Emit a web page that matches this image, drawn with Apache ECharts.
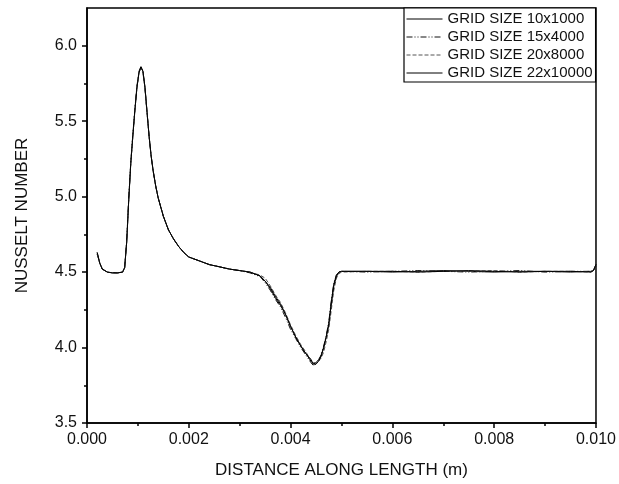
<!DOCTYPE html>
<html>
<head>
<meta charset="utf-8">
<script src="https://cdn.jsdelivr.net/npm/echarts@6/dist/echarts.min.js"></script>
<style>
html,body{margin:0;padding:0;background:#fff;}
#chart{width:619px;height:484px;}
</style>
</head>
<body>
<div id="chart"></div>
<script>
var seriesNames = ['GRID SIZE 10x1000','GRID SIZE 15x4000','GRID SIZE 20x8000','GRID SIZE 22x10000'];
var xs = [0.0002,0.00025,0.0003,0.0004,0.0005,0.0006,0.0007,0.00074,0.00078,0.00082,0.00086,0.0009,0.00094,0.00098,0.00102,0.00106,0.0011,0.00114,0.00118,0.00122,0.00126,0.0013,0.00135,0.0014,0.0015,0.0016,0.0017,0.0018,0.0019,0.002,0.0022,0.0024,0.0026,0.0028,0.003,0.0032,0.0034,0.0035,0.0036,0.0037,0.0038,0.0039,0.004,0.0041,0.0042,0.0043,0.0044,0.00445,0.0045,0.00455,0.0046,0.00465,0.0047,0.00475,0.0048,0.00485,0.0049,0.00495,0.005,0.0055,0.006,0.0065,0.007,0.0075,0.008,0.0085,0.009,0.0095,0.0099,0.00995,0.01];
var nu10x1000 = [4.63,4.56,4.52,4.50,4.495,4.495,4.50,4.53,4.70,4.98,5.22,5.40,5.57,5.72,5.82,5.86,5.83,5.72,5.56,5.40,5.27,5.17,5.07,4.99,4.87,4.78,4.72,4.67,4.63,4.60,4.575,4.55,4.535,4.52,4.51,4.50,4.475,4.44,4.39,4.33,4.28,4.22,4.14,4.07,4.01,3.96,3.91,3.89,3.90,3.92,3.95,4.00,4.07,4.16,4.30,4.42,4.48,4.50,4.505,4.505,4.50,4.505,4.51,4.505,4.50,4.505,4.505,4.50,4.505,4.51,4.55];
var nu15x4000 = [4.62,4.56,4.52,4.50,4.495,4.495,4.50,4.53,4.71,4.99,5.23,5.41,5.58,5.73,5.83,5.86,5.82,5.71,5.55,5.40,5.27,5.17,5.07,4.99,4.87,4.78,4.72,4.67,4.63,4.60,4.575,4.55,4.535,4.52,4.51,4.495,4.47,4.43,4.38,4.32,4.27,4.20,4.12,4.06,4.00,3.95,3.90,3.88,3.89,3.91,3.95,4.01,4.08,4.17,4.31,4.43,4.48,4.50,4.505,4.50,4.505,4.51,4.505,4.50,4.505,4.51,4.50,4.505,4.505,4.51,4.54];
var nu20x8000 = [4.62,4.56,4.52,4.50,4.495,4.495,4.50,4.53,4.70,4.98,5.22,5.40,5.57,5.72,5.82,5.85,5.82,5.72,5.56,5.40,5.27,5.17,5.07,4.99,4.87,4.78,4.72,4.67,4.63,4.60,4.575,4.55,4.535,4.52,4.51,4.50,4.48,4.46,4.41,4.35,4.30,4.23,4.15,4.08,4.02,3.97,3.92,3.90,3.90,3.91,3.93,3.97,4.04,4.12,4.25,4.38,4.46,4.49,4.50,4.505,4.505,4.50,4.505,4.505,4.51,4.50,4.505,4.505,4.50,4.51,4.55];
var nu22x10000 = [4.63,4.56,4.52,4.50,4.495,4.495,4.50,4.53,4.70,4.98,5.22,5.40,5.57,5.72,5.82,5.86,5.83,5.72,5.56,5.40,5.27,5.17,5.07,4.99,4.87,4.78,4.72,4.67,4.63,4.60,4.575,4.55,4.535,4.52,4.51,4.50,4.475,4.44,4.40,4.34,4.29,4.22,4.14,4.07,4.01,3.96,3.92,3.89,3.89,3.91,3.94,4.00,4.07,4.15,4.29,4.41,4.47,4.50,4.505,4.505,4.505,4.50,4.505,4.51,4.505,4.50,4.505,4.505,4.50,4.51,4.55];
var yMajorTicks = [3.5,4.0,4.5,5.0,5.5,6.0];
var yMinorTicks = [3.75,4.25,4.75,5.25,5.75];

function pairs(ys){ return xs.map(function(x,i){ return [x, ys[i]]; }); }
var allY = [nu10x1000, nu15x4000, nu20x8000, nu22x10000];
var styles = [
  {color:'#000', type:'solid'},
  {color:'#111', type:[6,2,1,2,1,2]},
  {color:'#555', type:[4,2]},
  {color:'#000', type:'solid'}
];
var FONT = 'Liberation Sans, Arial, sans-serif';
var chart = echarts.init(document.getElementById('chart'), null, {renderer:'canvas'});
chart.setOption({
  animation: false,
  backgroundColor: '#fff',
  grid: {left: 87, right: 20, top: 8, bottom: 61, show: true, borderColor: '#000', borderWidth: 1.5, backgroundColor: 'transparent'},
  legend: {
    data: seriesNames,
    orient: 'vertical',
    left: 404, top: 8,
    padding: [2, 3, 0, 2],
    itemGap: 0,
    itemWidth: 36, itemHeight: 18,
    backgroundColor: '#fff',
    borderColor: '#000', borderWidth: 1.2,
    itemStyle: {opacity: 0},
    lineStyle: {width: 1},
    textStyle: {fontFamily: FONT, fontSize: 15, color: '#111', lineHeight: 18}
  },
  xAxis: {
    type: 'value', min: 0, max: 0.01, interval: 0.002,
    name: 'DISTANCE ALONG LENGTH (m)', nameLocation: 'middle', nameGap: 39,
    nameTextStyle: {fontFamily: FONT, fontSize: 17, color: '#111'},
    axisLine: {show: true, lineStyle: {color: '#000', width: 1.5}},
    axisTick: {show: true, inside: false, length: 5, lineStyle: {color: '#000', width: 1.5}},
    minorTick: {show: true, splitNumber: 2, length: 3, lineStyle: {color: '#000', width: 1.5}},
    splitLine: {show: false},
    axisLabel: {fontFamily: FONT, fontSize: 16, color: '#111', margin: 9,
      formatter: function(v){ return v.toFixed(3); }}
  },
  yAxis: [{
    type: 'value', min: 3.5, max: 6.25, interval: 0.25,
    name: 'NUSSELT NUMBER', nameLocation: 'middle', nameGap: 56,
    nameTextStyle: {fontFamily: FONT, fontSize: 17, color: '#111'},
    axisLine: {show: true, lineStyle: {color: '#000', width: 1.5}},
    axisTick: {show: true, inside: false, length: 5, customValues: yMajorTicks, lineStyle: {color: '#000', width: 1.5}},
    splitLine: {show: false},
    axisLabel: {fontFamily: FONT, fontSize: 16, color: '#111', margin: 10, customValues: yMajorTicks,
      formatter: function(v){ return v.toFixed(1); }}
  }, {
    type: 'value', min: 3.5, max: 6.25, interval: 0.25, position: 'left',
    axisLine: {show: false},
    axisTick: {show: true, inside: false, length: 3, customValues: yMinorTicks, lineStyle: {color: '#000', width: 1.5}},
    axisLabel: {show: false},
    splitLine: {show: false}
  }],
  series: allY.map(function(ys, i){
    return {
      name: seriesNames[i], type: 'line', yAxisIndex: 0,
      data: pairs(ys), symbol: 'none', showSymbol: false, smooth: false,
      lineStyle: {color: styles[i].color, width: 1, type: styles[i].type},
      itemStyle: {color: styles[i].color}
    };
  })
});
</script>
</body>
</html>
